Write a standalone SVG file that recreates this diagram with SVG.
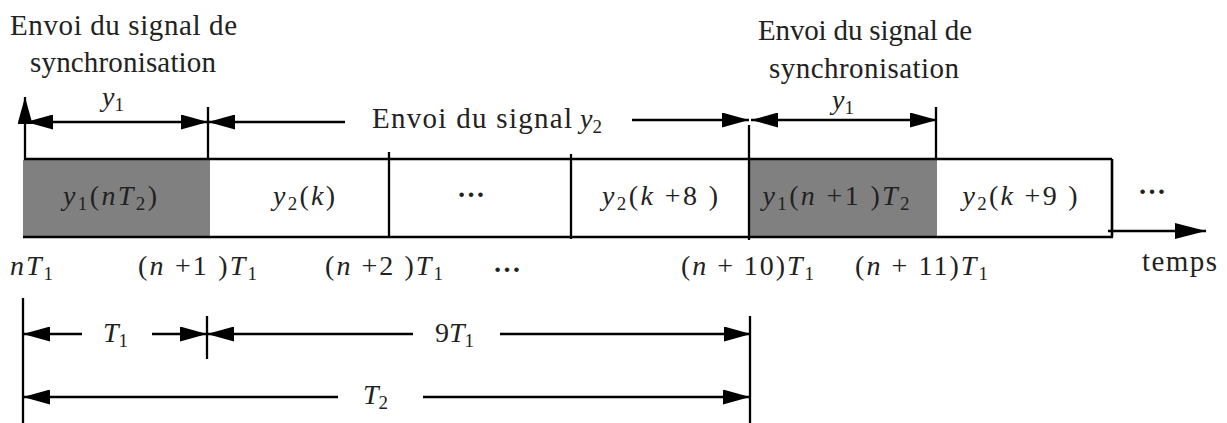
<svg xmlns="http://www.w3.org/2000/svg" width="1227" height="423" viewBox="0 0 1227 423">
<style>
.t{font-family:"Liberation Serif","DejaVu Serif",serif;font-size:29px;fill:#222}
.m{font-family:"Liberation Serif","DejaVu Serif",serif;font-size:28px;fill:#222}
.i{font-style:italic}
.s{font-size:19px}
.b{font-weight:bold}
.ln{stroke:#000;stroke-width:2.3;fill:none}
.bx{stroke:#000;stroke-width:2.6;fill:none}
.ar{stroke:#000;stroke-width:2.3;fill:none;marker-end:url(#ah)}
.ar2{stroke:#000;stroke-width:2.3;fill:none;marker-end:url(#ah);marker-start:url(#ah)}
.grey{fill:#808080}
</style>
<defs>
<marker id="ah" viewBox="0 0 27 15" refX="27" refY="7.5" markerWidth="27" markerHeight="15" markerUnits="userSpaceOnUse" orient="auto-start-reverse">
<path d="M0,0 L27,7.5 L0,15 Z" fill="#000"/>
</marker>
<marker id="ahb" viewBox="0 0 31 16" refX="31" refY="8" markerWidth="31" markerHeight="16" markerUnits="userSpaceOnUse" orient="auto">
<path d="M0,0 L31,8 L0,16 Z" fill="#000"/>
</marker>
</defs>
<rect width="1227" height="423" fill="#fff"/>

<g id="cell-y1-nT2">
<rect class="grey" x="23" y="160" width="187" height="77"/>
<text class="m" x="110" y="205" text-anchor="middle" textLength="94"><tspan class="i">y</tspan><tspan class="s" dy="5">1</tspan><tspan dy="-5">(</tspan><tspan class="i">nT</tspan><tspan class="s" dy="5">2</tspan><tspan dy="-5">)</tspan></text>
</g>
<g id="cell-y2-k">
<text class="m" x="304" y="205" text-anchor="middle" textLength="62"><tspan class="i">y</tspan><tspan class="s" dy="5">2</tspan><tspan dy="-5">(</tspan><tspan class="i">k</tspan>)</text>
</g>
<g id="cell-dots">
<text class="m b" x="471" y="197" text-anchor="middle">…</text>
</g>
<g id="cell-y2-k8">
<text class="m" x="660" y="205" text-anchor="middle" textLength="116"><tspan class="i">y</tspan><tspan class="s" dy="5">2</tspan><tspan dy="-5">(</tspan><tspan class="i">k</tspan> +8 )</text>
</g>
<g id="cell-y1-n1T2">
<rect class="grey" x="749" y="160" width="188" height="77"/>
<text class="m" x="836" y="205" text-anchor="middle" textLength="147"><tspan class="i">y</tspan><tspan class="s" dy="5">1</tspan><tspan dy="-5">(</tspan><tspan class="i">n</tspan> +1 )<tspan class="i">T</tspan><tspan class="s" dy="5">2</tspan></text>
</g>
<g id="cell-y2-k9">
<text class="m" x="1020" y="205" text-anchor="middle" textLength="115"><tspan class="i">y</tspan><tspan class="s" dy="5">2</tspan><tspan dy="-5">(</tspan><tspan class="i">k</tspan> +9 )</text>
</g>
<g id="dots-after">
<text class="m b" x="1152" y="194" text-anchor="middle">…</text>
</g>

<g id="frame">
<line class="bx" x1="24" y1="159" x2="1112" y2="159"/>
<line class="bx" x1="23" y1="237" x2="1113" y2="237"/>
<line class="bx" x1="1112" y1="159" x2="1112" y2="237"/>
<line class="ln" x1="389" y1="152" x2="389" y2="237"/>
<line class="ln" x1="571" y1="154" x2="571" y2="239"/>
<line class="ln" x1="749" y1="125" x2="749" y2="240"/>
</g>

<g id="connectors">
<line class="ar" x1="25" y1="160" x2="25" y2="97"/>
<line class="ar2" x1="26" y1="122" x2="208" y2="122"/>
<line class="ln" x1="208" y1="107" x2="208" y2="159"/>
<line class="ar" x1="345" y1="122" x2="208" y2="122"/>
<line class="ar" x1="632" y1="120" x2="749" y2="120"/>
<line class="ar2" x1="751" y1="120" x2="937" y2="120"/>
<line class="ln" x1="936" y1="107" x2="936" y2="159"/>
<line class="ln" x1="1108" y1="231" x2="1206" y2="231" style="marker-end:url(#ahb)"/>
<line class="ln" x1="23" y1="298" x2="23" y2="423"/>
<line class="ln" x1="750" y1="316" x2="750" y2="423"/>
<line class="ln" x1="207" y1="316" x2="207" y2="359"/>
<line class="ar" x1="82" y1="334" x2="23" y2="334"/>
<line class="ar" x1="152" y1="334" x2="207" y2="334"/>
<line class="ar" x1="413" y1="334" x2="207" y2="334"/>
<line class="ar" x1="500" y1="334" x2="751" y2="334"/>
<line class="ar" x1="338" y1="397" x2="23" y2="397"/>
<line class="ar" x1="423" y1="397" x2="750" y2="397"/>
</g>

<g id="label-sync-left">
<text class="t" x="10" y="35" textLength="227">Envoi du signal de</text>
<text class="t" x="30" y="72" textLength="186">synchronisation</text>
</g>
<g id="label-sync-right">
<text class="t" x="758" y="40" textLength="214">Envoi du signal de</text>
<text class="t" x="769" y="78" textLength="190">synchronisation</text>
</g>
<g id="label-y1-left">
<text class="m" x="102" y="106"><tspan class="i">y</tspan><tspan class="s" dy="5">1</tspan></text>
</g>
<g id="label-y1-right">
<text class="m" x="832" y="109"><tspan class="i">y</tspan><tspan class="s" dy="5">1</tspan></text>
</g>
<g id="label-y2">
<text class="t" x="372" y="128" textLength="200">Envoi du signal</text>
<text class="m" x="580" y="128"><tspan class="i">y</tspan><tspan class="s" dy="5">2</tspan></text>
</g>

<g id="time-labels">
<text class="m" x="10" y="275" textLength="43"><tspan class="i">nT</tspan><tspan class="s" dy="5">1</tspan></text>
<text class="m" x="138" y="275" textLength="119">(<tspan class="i">n</tspan> +1 )<tspan class="i">T</tspan><tspan class="s" dy="5">1</tspan></text>
<text class="m" x="325" y="275" textLength="118">(<tspan class="i">n</tspan> +2 )<tspan class="i">T</tspan><tspan class="s" dy="5">1</tspan></text>
<text class="m b" x="507" y="272" text-anchor="middle">…</text>
<text class="m" x="681" y="275" textLength="133">(<tspan class="i">n</tspan> + 10)<tspan class="i">T</tspan><tspan class="s" dy="5">1</tspan></text>
<text class="m" x="855" y="275" textLength="133">(<tspan class="i">n</tspan> + 11)<tspan class="i">T</tspan><tspan class="s" dy="5">1</tspan></text>
<text class="t" x="1142" y="271" textLength="75">temps</text>
</g>

<g id="duration-labels">
<text class="m" x="103" y="342"><tspan class="i">T</tspan><tspan class="s" dy="5">1</tspan></text>
<text class="m" x="435" y="342">9<tspan class="i">T</tspan><tspan class="s" dy="5">1</tspan></text>
<text class="m" x="363" y="404"><tspan class="i">T</tspan><tspan class="s" dy="5">2</tspan></text>
</g>
</svg>
